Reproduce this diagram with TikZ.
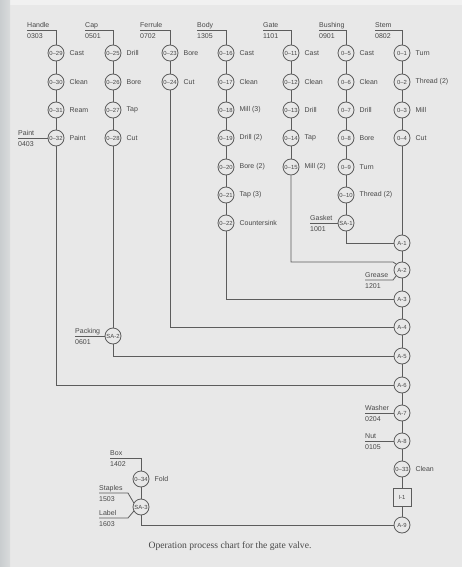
\documentclass[tikz,border=0pt]{standalone}
\usepackage{fontspec}
\setmainfont{Liberation Sans}
\newfontfamily\capfont{Liberation Serif}
\usetikzlibrary{positioning,calc}
\definecolor{lc}{HTML}{5C5C5C}
\definecolor{tc}{HTML}{484848}
\definecolor{bgpage}{HTML}{E8E8E8}
\definecolor{bgtop}{HTML}{F1F1F1}
\definecolor{bgleftA}{HTML}{C9CDCF}
\definecolor{bgleftB}{HTML}{D9DBDC}
\tikzset{
  op/.style={circle,draw=lc,line width=0.8pt,minimum size=16pt,inner sep=0pt,
    font=\fontsize{5.9}{6}\selectfont,text=tc},
  insp/.style={rectangle,draw=lc,line width=0.8pt,minimum size=18pt,inner sep=0pt,
    font=\fontsize{5.9}{6}\selectfont,text=tc},
  side/.style={font=\fontsize{7}{8}\selectfont,text=tc,inner sep=0pt},
  lbl/.style={font=\fontsize{7}{8}\selectfont,text=tc,inner sep=0pt},
  conn/.style={draw=lc,line width=0.8pt},
}
\newcommand\mkop[5]{%
  \node[op] (#1) at (#2,#3) {#4};
  \node[side,anchor=west,right=5pt of #1] (#1t) {#5};}
\newcommand\mkin[5]{%
  \coordinate (#1) at (#2,#3);
  \node[lbl,anchor=base west] (#1a) at (#2,#3-2.5) {#4};
  \node[lbl,anchor=north west] (#1b) at (#2,#3+3) {#5};}
\begin{document}
\begin{tikzpicture}[x=1pt,y=-1pt]
\useasboundingbox (0,0) rectangle (462,567);
\fill[bgpage] (0,0) rectangle (462,567);
\fill[bgtop] (10,0) rectangle (462,5);
\shade[left color=bgleftA,right color=bgleftB] (0,0) rectangle (10,567);

% ---- top material labels
\mkin{hdl}{27}{30}{Handle}{0303}
\mkin{cap}{85}{30}{Cap}{0501}
\mkin{fer}{140}{30}{Ferrule}{0702}
\mkin{bdy}{197}{30}{Body}{1305}
\mkin{gat}{263}{30}{Gate}{1101}
\mkin{bsh}{319}{30}{Bushing}{0901}
\mkin{stm}{375}{30}{Stem}{0802}

% ---- Handle
\mkop{O29}{56}{53}{0--29}{Cast}
\mkop{O30}{56}{82}{0--30}{Clean}
\mkop{O31}{56}{110}{0--31}{Ream}
\mkop{O32}{56}{138}{0--32}{Paint}
% ---- Cap
\mkop{O25}{113}{53}{0--25}{Drill}
\mkop{O26}{113}{82}{0--26}{Bore}
\mkop{O27}{113}{110}{0--27}{Tap}
\mkop{O28}{113}{138}{0--28}{Cut}
% ---- Ferrule
\mkop{O23}{170}{53}{0--23}{Bore}
\mkop{O24}{170}{82}{0--24}{Cut}
% ---- Body
\mkop{O16}{226}{53}{0--16}{Cast}
\mkop{O17}{226}{82}{0--17}{Clean}
\mkop{O18}{226}{110}{0--18}{Mill (3)}
\mkop{O19}{226}{138}{0--19}{Drill (2)}
\mkop{O20}{226}{167}{0--20}{Bore (2)}
\mkop{O21}{226}{195}{0--21}{Tap (3)}
\mkop{O22}{226}{223}{0--22}{Countersink}
% ---- Gate
\mkop{O11}{291}{53}{0--11}{Cast}
\mkop{O12}{291}{82}{0--12}{Clean}
\mkop{O13}{291}{110}{0--13}{Drill}
\mkop{O14}{291}{138}{0--14}{Tap}
\mkop{O15}{291}{167}{0--15}{Mill (2)}
% ---- Bushing
\mkop{O5}{346}{53}{0--5}{Cast}
\mkop{O6}{346}{82}{0--6}{Clean}
\mkop{O7}{346}{110}{0--7}{Drill}
\mkop{O8}{346}{138}{0--8}{Bore}
\mkop{O9}{346}{167}{0--9}{Turn}
\mkop{O10}{346}{195}{0--10}{Thread (2)}
\node[op] (SA1) at (346,223) {SA-1};
% ---- Stem
\mkop{O1}{402}{53}{0--1}{Turn}
\mkop{O2}{402}{82}{0--2}{Thread (2)}
\mkop{O3}{402}{110}{0--3}{Mill}
\mkop{O4}{402}{138}{0--4}{Cut}

% ---- Assembly column
\node[op] (A1) at (402,243) {A-1};
\node[op] (A2) at (402,270) {A-2};
\node[op] (A3) at (402,299) {A-3};
\node[op] (A4) at (402,327) {A-4};
\node[op] (A5) at (402,356) {A-5};
\node[op] (A6) at (402,385) {A-6};
\node[op] (A7) at (402,413) {A-7};
\node[op] (A8) at (402,441) {A-8};
\mkop{O33}{402}{469}{0--33}{Clean}
\node[insp] (I1) at (402,497) {I-1};
\node[op] (A9) at (402,525) {A-9};

% ---- Sub-assemblies
\node[op] (SA2) at (113,336) {SA-2};
\mkop{O34}{141}{479}{0--34}{Fold}
\node[op] (SA3) at (141,507) {SA-3};

% ---- side inputs
\mkin{pnt}{18}{138}{Paint}{0403}
\mkin{pck}{75}{336}{Packing}{0601}
\mkin{gsk}{310}{223}{Gasket}{1001}
\mkin{grs}{365}{280}{Grease}{1201}
\mkin{wsh}{365}{413}{Washer}{0204}
\mkin{nut}{365}{441}{Nut}{0105}
\mkin{box}{110}{458}{Box}{1402}
\mkin{stp}{99}{493}{Staples}{1503}
\mkin{lab}{99}{518}{Label}{1603}
\coordinate (g2) at (393,262);
\coordinate (grsE) at (393,280);
\coordinate (stpE) at (128,493);
\coordinate (labE) at (128,518);

% ---- top feed lines
\draw[conn] (hdl) -| (O29);
\draw[conn] (cap) -| (O25);
\draw[conn] (fer) -| (O23);
\draw[conn] (bdy) -| (O16);
\draw[conn] (gat) -| (O11);
\draw[conn] (bsh) -| (O5);
\draw[conn] (stm) -| (O1);

% ---- column chains
\draw[conn] (O29) -- (O30) -- (O31) -- (O32);
\draw[conn] (O25) -- (O26) -- (O27) -- (O28) -- (SA2);
\draw[conn] (O23) -- (O24);
\draw[conn] (O16) -- (O17) -- (O18) -- (O19) -- (O20) -- (O21) -- (O22);
\draw[conn] (O11) -- (O12) -- (O13) -- (O14) -- (O15);
\draw[conn] (O5) -- (O6) -- (O7) -- (O8) -- (O9) -- (O10) -- (SA1);
\draw[conn] (O1) -- (O2) -- (O3) -- (O4) -- (A1);
\draw[conn] (A1) -- (A2) -- (A3) -- (A4) -- (A5) -- (A6) -- (A7) -- (A8) -- (O33) -- (I1) -- (A9);
\draw[conn] (O34) -- (SA3);

% ---- joins into assembly line
\draw[conn] (SA1) |- (A1);
\draw[conn] (O15) |- (g2) -- (A2.135);
\draw[conn] (O22) |- (A3);
\draw[conn] (O24) |- (A4);
\draw[conn] (SA2) |- (A5);
\draw[conn] (O32) |- (A6);
\draw[conn] (SA3) |- (A9);

% ---- side input lines
\draw[conn] (pnt) -- (O32);
\draw[conn] (pck) -- (SA2);
\draw[conn] (gsk) -- (SA1);
\draw[conn] (grs) -- (grsE) -- (A2.225);
\draw[conn] (wsh) -- (A7);
\draw[conn] (nut) -- (A8);
\draw[conn] (box) -| (O34);
\draw[conn] (stp) -- (stpE) -- (SA3.150);
\draw[conn] (lab) -- (labE) -- (SA3.210);

% ---- caption
\node[font=\capfont\fontsize{9.6}{11}\selectfont,text=tc,inner sep=0pt] (cap1) at (230,546) {Operation process chart for the gate valve.};
\end{tikzpicture}
\end{document}
